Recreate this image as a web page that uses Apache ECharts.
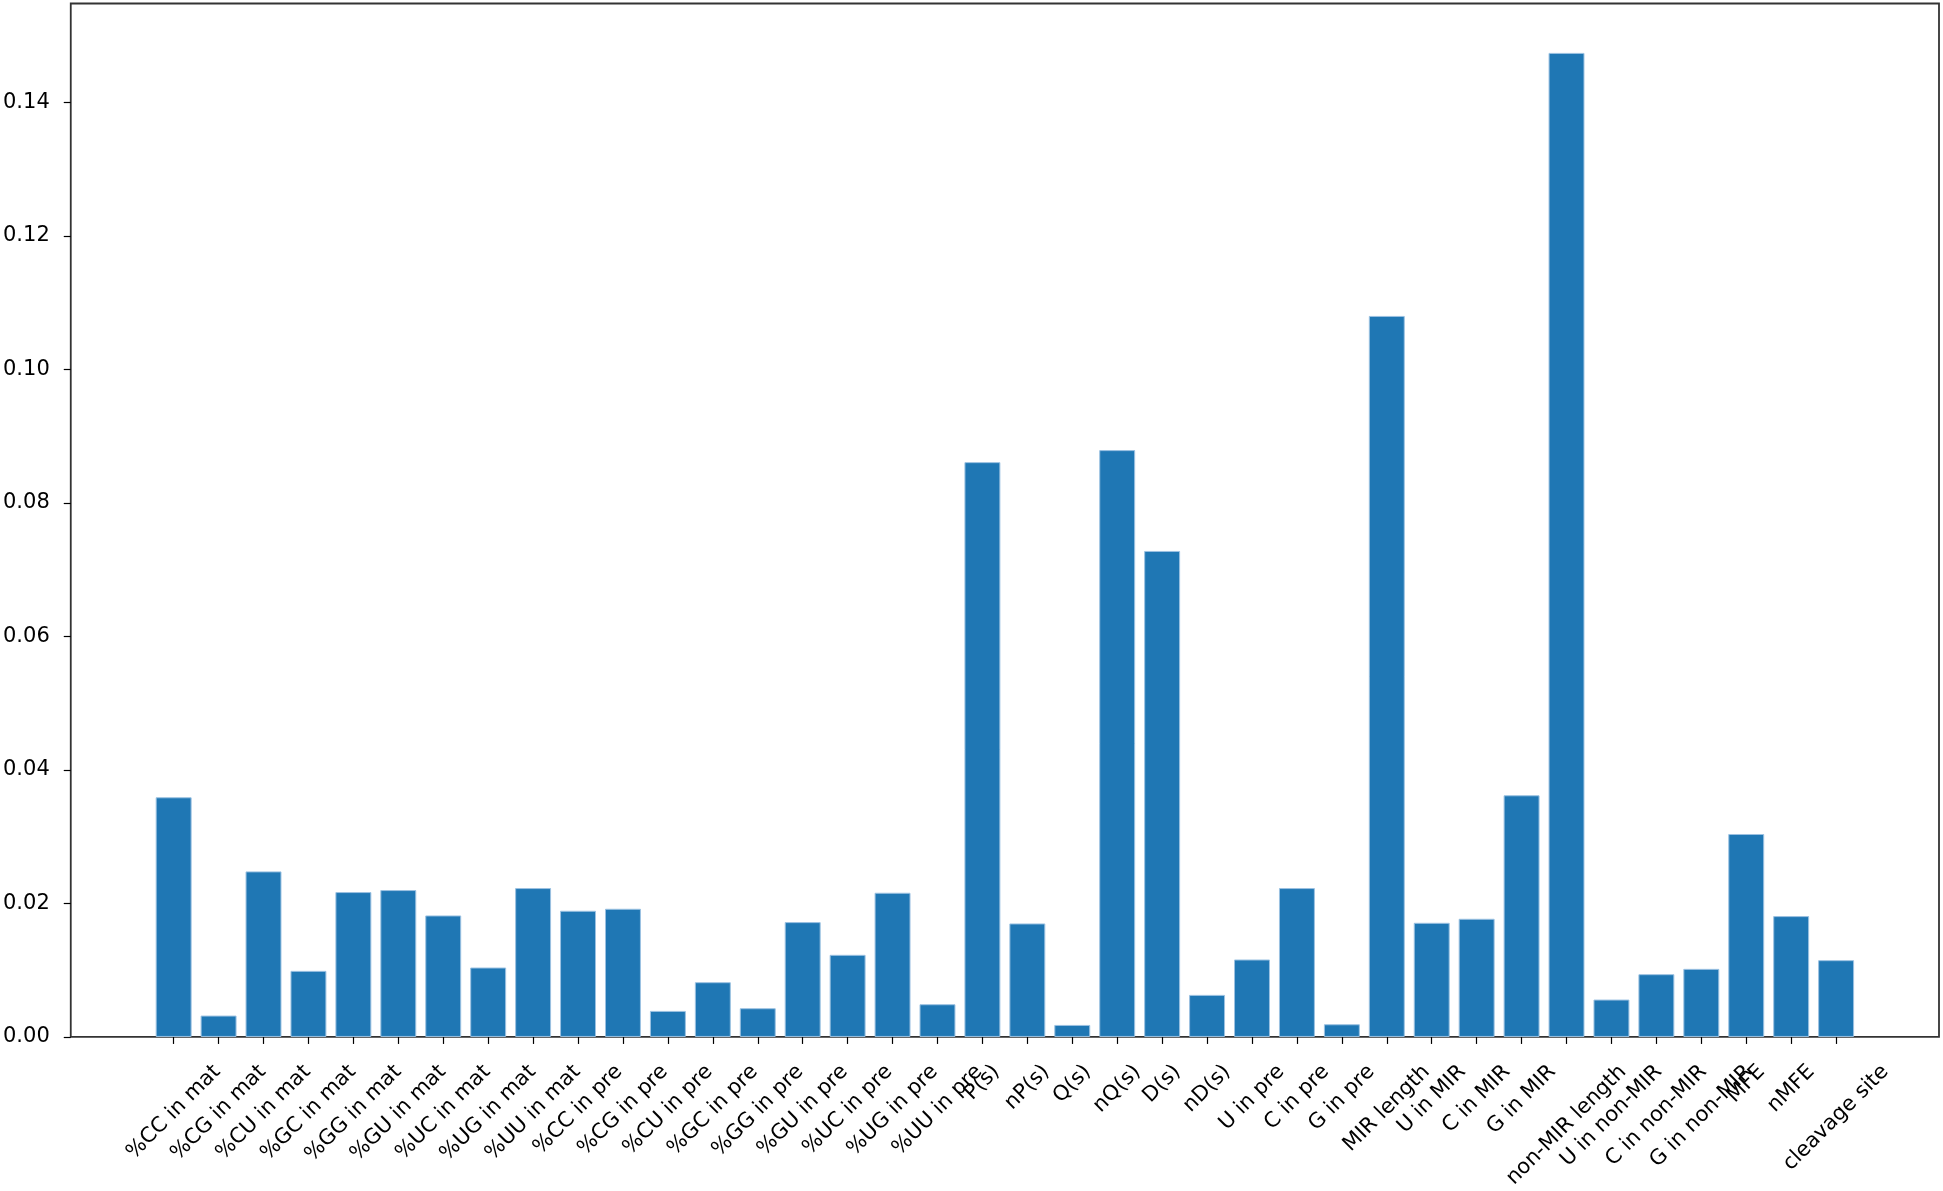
<!DOCTYPE html>
<html>
<head>
<meta charset="utf-8">
<script src="https://cdn.jsdelivr.net/npm/echarts@6/dist/echarts.min.js"></script>
<style>
  html, body { margin: 0; padding: 0; background: #fff; }
  #chart { width: 1943px; height: 1191px; }
</style>
</head>
<body>
<div id="chart"></div>
<script>
// feature names along the x axis
const categories = [
  '%CC in mat', '%CG in mat', '%CU in mat', '%GC in mat', '%GG in mat',
  '%GU in mat', '%UC in mat', '%UG in mat', '%UU in mat',
  '%CC in pre', '%CG in pre', '%CU in pre', '%GC in pre', '%GG in pre',
  '%GU in pre', '%UC in pre', '%UG in pre', '%UU in pre',
  'P(s)', 'nP(s)', 'Q(s)', 'nQ(s)', 'D(s)', 'nD(s)',
  'U in pre', 'C in pre', 'G in pre',
  'MIR length', 'U in MIR', 'C in MIR', 'G in MIR',
  'non-MIR length', 'U in non-MIR', 'C in non-MIR', 'G in non-MIR',
  'MFE', 'nMFE', 'cleavage site'
]

// importance of each feature
const importance = [
  0.0359, 0.0032, 0.0248, 0.0099, 0.0217,
  0.0220, 0.0182, 0.0104, 0.0223,
  0.0189, 0.0192, 0.0039, 0.0082, 0.0043,
  0.0172, 0.0123, 0.0216, 0.0049,
  0.0861, 0.0170, 0.0018, 0.0879, 0.0728, 0.0063,
  0.0116, 0.0223, 0.0019,
  0.1080, 0.0171, 0.0177, 0.0362,
  0.1474, 0.0056, 0.0094, 0.0102,
  0.0304, 0.0181, 0.0115
]

const yTicks = [0, 0.02, 0.04, 0.06, 0.08, 0.10, 0.12, 0.14]
const xTicks = categories.map((c, i) => i)

const FONT = 21
const FAMILY = 'DejaVu Sans'

// rotated labels centred under the tick (matplotlib style):
// push each label down by half of its rotated box
const ctx = document.createElement('canvas').getContext('2d')
ctx.font = FONT + 'px "' + FAMILY + '"'
const rich = {}
for (var i = 0; i < categories.length; i++) {
  const w = ctx.measureText(categories[i]).width
  const p = (w + FONT * 1.17) / 2
  rich['l' + i] = {
    fontSize: FONT,
    fontFamily: FAMILY,
    color: '#000',
    padding: [p, p, 0, 0]
  }
}

const chart = echarts.init(document.getElementById('chart'))
chart.setOption({
  animation: false,
  textStyle: { fontFamily: FAMILY },
  grid: {
    left: 70,
    right: 4,
    top: 3.5,
    bottom: 151,
    show: true,
    borderColor: '#333',
    borderWidth: 1.8,
    containLabel: false
  },
  xAxis: {
    type: 'value',
    min: -2.29,
    max: 39.29,
    splitLine: { show: false },
    axisLine: { show: false, onZero: false },
    axisTick: {
      show: true,
      customValues: xTicks,
      length: 7,
      lineStyle: { color: '#000', width: 1.2 }
    },
    axisLabel: {
      customValues: xTicks,
      rotate: 45,
      align: 'center',
      verticalAlign: 'middle',
      margin: 23,
      hideOverlap: false,
      formatter: function (v) {
        const k = Math.round(v)
        return '{l' + k + '|' + categories[k] + '}'
      },
      rich: rich
    }
  },
  yAxis: {
    type: 'value',
    min: 0,
    max: 0.1548,
    splitLine: { show: false },
    axisLine: { show: false, onZero: false },
    axisTick: {
      show: true,
      customValues: yTicks,
      length: 7,
      lineStyle: { color: '#000', width: 1.2 }
    },
    axisLabel: {
      customValues: yTicks,
      fontSize: FONT,
      fontFamily: FAMILY,
      color: '#000',
      margin: 21,
      formatter: function (v) { return v.toFixed(2) }
    }
  },
  series: [
    {
      type: 'bar',
      data: importance.map((v, i) => [i, v]),
      barWidth: '80%',
      itemStyle: {
        color: '#1f77b4',
        borderColor: '#9cc2e2',
        borderWidth: 1
      }
    }
  ]
})
</script>
</body>
</html>
